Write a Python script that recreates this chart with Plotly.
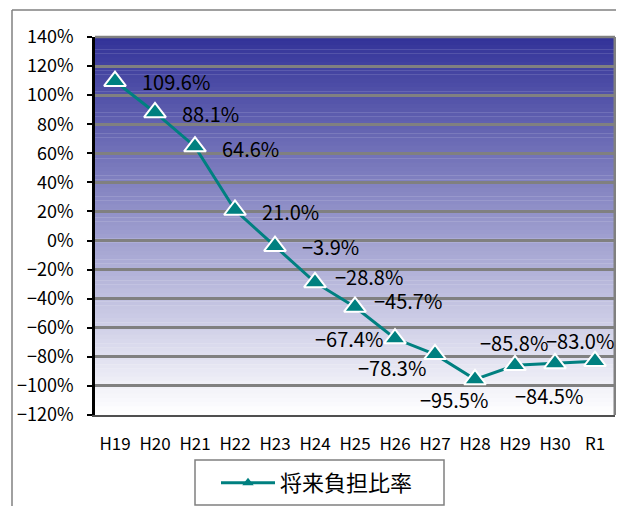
import plotly.graph_objects as go

categories = ["H19", "H20", "H21", "H22", "H23", "H24", "H25", "H26", "H27", "H28", "H29", "H30", "R1"]
ratio = [109.6, 88.1, 64.6, 21.0, -3.9, -28.8, -45.7, -67.4, -78.3, -95.5, -85.8, -84.5, -83.0]
series_name = "将来負担比率"
y_ticks = list(range(-120, 141, 20))

# label placement (pixel offsets from each point): (xanchor, xshift, yshift)
label_pos = [
    ("left", 25, 0), ("left", 25, -1), ("left", 25, -2), ("left", 25, -1),
    ("left", 25, 0), ("left", 18, 6), ("left", 17, 6), ("right", -10, 0),
    ("right", -7, -13), ("center", -21, -20), ("center", -1, 23),
    ("center", -6, -32), ("center", -15, 21),
]

OFF = 8  # page body margin
W, H = 624 - OFF, 506 - OFF
L, R, T, B = 95 - OFF, 9, 37 - OFF, 91
pw, ph = W - L - R, H - T - B

def px_x(px):
    return (px - OFF - L) / pw

def px_y(py):
    return (H - B - (py - OFF)) / ph

FONT = "Noto Sans CJK JP"
TEAL = "#008080"

fig = go.Figure()

# gradient background bands
n = 90
c0 = (0x33, 0x33, 0x99)
c1 = (0xff, 0xff, 0xff)
shapes = []
for i in range(n):
    t = i / (n - 1)
    col = tuple(round(c0[k] + (c1[k] - c0[k]) * t) for k in range(3))
    shapes.append(dict(type="rect", xref="x domain", yref="y domain",
                       x0=0, x1=1, y0=1 - (i + 1) / n, y1=1 - i / n + 0.001,
                       fillcolor="rgb(%d,%d,%d)" % col, line=dict(width=0),
                       layer="below"))

# outer chart border (top and left)
shapes.append(dict(type="line", xref="paper", yref="paper",
                   x0=px_x(12), x1=px_x(640), y0=px_y(10), y1=px_y(10),
                   line=dict(color="#808080", width=1.5)))
shapes.append(dict(type="line", xref="paper", yref="paper",
                   x0=px_x(12), x1=px_x(12), y0=px_y(10), y1=px_y(520),
                   line=dict(color="#808080", width=1.5)))
# plot area top/right border
shapes.append(dict(type="line", xref="x domain", yref="y domain",
                   x0=0, x1=1, y0=1, y1=1, line=dict(color="#808080", width=2.5)))
shapes.append(dict(type="line", xref="x domain", yref="y domain",
                   x0=1, x1=1, y0=0, y1=1, line=dict(color="#808080", width=3)))
# legend box
shapes.append(dict(type="rect", xref="paper", yref="paper",
                   x0=px_x(195), x1=px_x(444), y0=px_y(505), y1=px_y(460),
                   line=dict(color="#808080", width=1.5), fillcolor="white"))

fig.add_trace(go.Scatter(
    x=categories, y=ratio, mode="lines+markers", showlegend=False,
    line=dict(color=TEAL, width=3),
    marker=dict(symbol="triangle-up", size=19, color=TEAL,
                line=dict(color="white", width=2)),
))
# legend entry
fig.add_trace(go.Scatter(
    x=[None], y=[None], mode="lines+markers", name=series_name,
    line=dict(color=TEAL, width=3),
    marker=dict(symbol="triangle-up", size=10, color=TEAL,
                line=dict(color="white", width=0)),
))

annotations = []
for cat, v, (xa, xs, ys) in zip(categories, ratio, label_pos):
    txt = ("%.1f%%" % v).replace("-", "\u2212")
    annotations.append(dict(x=cat, y=v, xref="x", yref="y", text=txt,
                            showarrow=False, xanchor=xa, yanchor="middle",
                            xshift=xs, yshift=ys,
                            font=dict(family=FONT, size=20, color="black")))

bounds = [i - 0.5 for i in range(len(categories))]
zero_pos = (0 - y_ticks[0]) / (y_ticks[-1] - y_ticks[0])

fig.update_layout(
    width=W, height=H,
    margin=dict(l=L, r=R, t=T, b=B, pad=0, autoexpand=False),
    paper_bgcolor="white", plot_bgcolor="rgba(0,0,0,0)",
    font=dict(family=FONT, color="black"),
    shapes=shapes, annotations=annotations,
    showlegend=True,
    legend=dict(x=px_x(216), y=px_y(462), xanchor="left", yanchor="top",
                bgcolor="rgba(0,0,0,0)", borderwidth=0, itemwidth=54,
                font=dict(family=FONT, size=22, color="black")),
    xaxis=dict(type="category", categoryorder="array", categoryarray=categories,
               range=[-0.5, len(categories) - 0.5],
               showgrid=False, zeroline=False, ticks="",
               showline=True, linecolor="#505050", linewidth=2,
               tickfont=dict(family=FONT, size=17, color="black"),
               ticklabelstandoff=13),
    xaxis2=dict(overlaying="x", anchor="free", position=zero_pos,
                range=[-0.5, len(categories) - 0.5], tickvals=bounds,
                showticklabels=False, ticks="outside", ticklen=6, tickwidth=2,
                tickcolor="#808080", showgrid=False, zeroline=False, showline=False),
    xaxis3=dict(overlaying="x", anchor="free", position=zero_pos,
                range=[-0.5, len(categories) - 0.5], tickvals=bounds,
                showticklabels=False, ticks="inside", ticklen=6, tickwidth=2,
                tickcolor="#808080", showgrid=False, zeroline=False, showline=False),
    yaxis=dict(range=[y_ticks[0], y_ticks[-1]], tickvals=y_ticks,
               ticktext=[("%d%%" % t).replace("-", "\u2212") for t in y_ticks],
               showgrid=True, gridcolor="#808080", gridwidth=2.5,
               zeroline=True, zerolinecolor="#808080", zerolinewidth=2.5,
               showline=True, linecolor="black", linewidth=2.5,
               ticks="outside", ticklen=5, tickwidth=1.5, tickcolor="black",
               tickfont=dict(family=FONT, size=18, color="black"),
               ticklabelstandoff=10),
)

fig.write_html("out.html")
